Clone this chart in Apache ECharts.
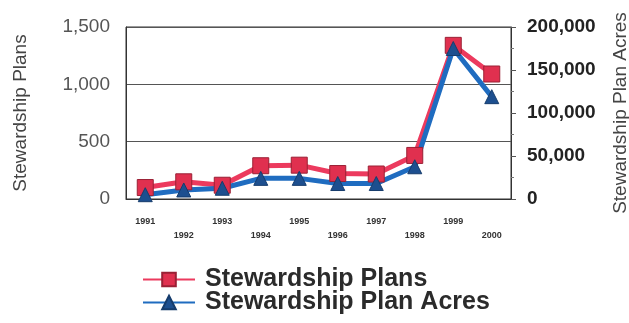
<!DOCTYPE html>
<html>
<head>
<meta charset="utf-8">
<script src="https://cdn.jsdelivr.net/npm/echarts@6/dist/echarts.min.js"></script>
<style>
  html, body { margin: 0; padding: 0; background: #fff; }
  #chart { width: 629px; height: 323px; }
</style>
</head>
<body>
<div id="chart"></div>
<script>
const years = ['1991', '1992', '1993', '1994', '1995', '1996', '1997', '1998', '1999', '2000'];
const plans = [100, 150, 120, 290, 295, 222, 218, 380, 1340, 1090];
const planAcres = [5000, 10500, 12500, 24000, 24000, 18000, 18000, 37500, 175000, 119000];
const leftTicks = [0, 1500, 500];
const rightTicks = [0, 200000, 50000];

const chart = echarts.init(document.getElementById('chart'));

const commas = (v) => String(v).replace(/\B(?=(\d{3})+(?!\d))/g, ',');

const option = {
  animation: false,
  textStyle: { fontFamily: 'Liberation Sans' },
  grid: {
    left: 126,
    right: 118,
    top: 27,
    bottom: 124,
    outerBoundsMode: 'none',
    containLabel: false,
    show: true,
    borderColor: '#333',
    borderWidth: 1
  },
  legend: {
    orient: 'vertical',
    left: 142,
    top: 267,
    padding: 0,
    height: 56,
    itemWidth: 52,
    itemHeight: 17,
    itemGap: -2,
    textStyle: { fontSize: 25, fontWeight: 'bold', color: '#2b2b2b', lineHeight: 18, padding: [0, 0, 0, 5] },
    data: ['Stewardship Plans', 'Stewardship Plan Acres']
  },
  xAxis: {
    type: 'category',
    data: years,
    boundaryGap: true,
    axisLine: { lineStyle: { color: '#333' } },
    axisTick: { alignWithLabel: true, length: 5, lineStyle: { color: '#333' } },
    axisLabel: {
      interval: 0,
      fontSize: 9,
      fontWeight: 'bold',
      color: '#333',
      lineHeight: 14,
      margin: 16,
      formatter: (v, i) => (i % 2 ? '\n' + v : v)
    }
  },
  yAxis: [{
    type: 'value',
    name: 'Stewardship Plans',
    nameLocation: 'middle',
    nameGap: 96,
    nameTextStyle: { fontSize: 19, color: '#444' },
    min: leftTicks[0],
    max: leftTicks[1],
    interval: leftTicks[2],
    axisLine: { show: true, lineStyle: { color: '#333' } },
    axisTick: { show: false },
    axisLabel: { fontSize: 19, color: '#555', margin: 16, formatter: commas },
    splitLine: { lineStyle: { color: '#555', width: 1 } }
  }, {
    type: 'value',
    name: 'Stewardship Plan Acres',
    nameLocation: 'middle',
    nameGap: 100,
    nameRotate: 90,
    nameTextStyle: { fontSize: 19, color: '#444' },
    min: rightTicks[0],
    max: rightTicks[1],
    interval: rightTicks[2],
    position: 'right',
    axisLine: { show: true, lineStyle: { color: '#333' } },
    axisTick: { show: true, length: 5, lineStyle: { color: '#555' } },
    minorTick: { show: true, splitNumber: 2, length: 3, lineStyle: { color: '#777' } },
    axisLabel: { fontSize: 19, fontWeight: 'bold', color: '#222', margin: 16, formatter: commas },
    splitLine: { show: false }
  }],
  series: [{
    name: 'Stewardship Plans',
    type: 'line',
    yAxisIndex: 0,
    data: plans,
    symbol: 'rect',
    symbolSize: 16,
    lineStyle: { color: '#ec3a5e', width: 5 },
    itemStyle: { color: '#e0304f', borderColor: '#9a2035', borderWidth: 1 }
  }, {
    name: 'Stewardship Plan Acres',
    type: 'line',
    yAxisIndex: 1,
    data: planAcres,
    symbol: 'triangle',
    symbolSize: 14,
    lineStyle: { color: '#1f6cc0', width: 5 },
    itemStyle: { color: '#1d4f8f', borderColor: '#163c6c', borderWidth: 1 }
  }]
};

chart.setOption(option);
</script>
</body>
</html>
